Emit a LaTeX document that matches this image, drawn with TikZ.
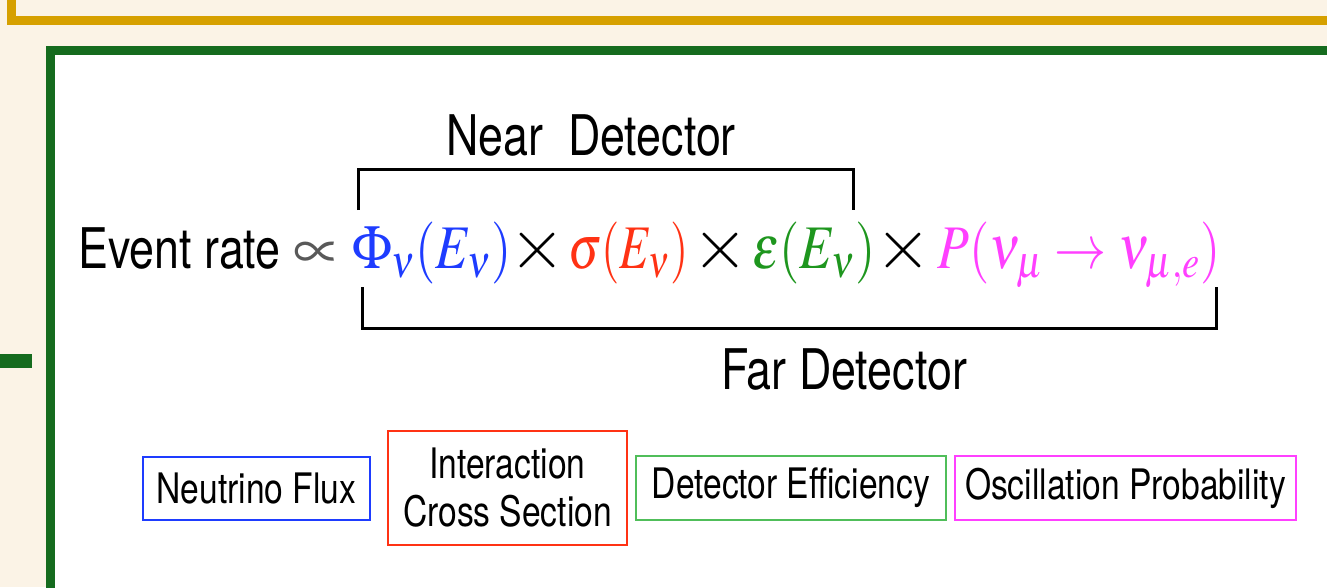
\documentclass[tikz,border=0pt]{standalone}
\usepackage[no-math]{fontspec}
\usepackage{mathptmx}
\usepackage{graphicx}
\setmainfont{TeX Gyre Heros}[FakeStretch=0.8]
\usepackage{tikz}

\definecolor{cream}{RGB}{251,243,230}
\definecolor{gold}{RGB}{214,160,0}
\definecolor{frame}{RGB}{21,107,30}
\definecolor{fluxc}{RGB}{30,60,255}
\definecolor{xsecc}{RGB}{255,50,20}
\definecolor{effc}{RGB}{30,150,30}
\definecolor{effbox}{RGB}{80,190,90}
\definecolor{oscc}{RGB}{255,64,255}

\newcommand{\bigsf}{\fontsize{56}{60}\selectfont}
\newcommand{\boxsf}{\fontsize{42}{48}\selectfont}
\newcommand{\eqsize}{\fontsize{62}{70}\selectfont}
\newcommand{\eqfit}[2][0.84]{\scalebox{#1}[1]{#2}}

\tikzset{
  tagbox/.style={draw, line width=2.7pt, inner sep=0pt, align=center, font=\boxsf},
  bracket/.style={line width=3pt},
  factor/.style={anchor=base west, inner sep=0pt, font=\eqsize},
  timessign/.style={inner sep=0pt, font=\fontsize{72}{72}\selectfont}
}

\begin{document}
\begin{tikzpicture}[x=1pt,y=-1pt]
    \useasboundingbox (0,0) rectangle (1327,587);
    \fill[cream] (0,0) rectangle (1327,587);
    \begin{scope}
    \clip (0,0) rectangle (1327,587);
    \draw[gold, line width=9pt] (11.5,-30) rectangle (1360,20.5);
    \draw[frame, line width=9pt, fill=white] (50.2,50) rectangle (1360,620);
    \fill[frame] (0,354) rectangle (32,368);
    \end{scope}

    \node[anchor=base west, inner sep=0pt, font=\bigsf] (rate) at (78,268) {Event rate \textcolor{black!65}{\fontsize{64}{64}\selectfont$\propto$}};
    \node[factor, text=fluxc] (flux) at (352,268) {\eqfit{$\Phi_\nu(E_\nu)$}};
    \node[timessign] (t1) at (537,250) {$\times$};
    \node[factor, text=xsecc] (xsec) at (568,268) {\eqfit[0.76]{$\sigma(E_\nu)$}};
    \node[timessign] (t2) at (720,250) {$\times$};
    \node[factor, text=effc] (eff) at (752,268) {\eqfit{$\epsilon(E_\nu)$}};
    \node[timessign] (t3) at (903,250) {$\times$};
    \node[factor, text=oscc] (osc) at (937,268) {\eqfit{$P(\nu_\mu\to\nu_{\mu,e})$}};

    \node[anchor=base, inner sep=0pt, font=\bigsf] (near) at (591,155) {Near\ \ Detector};
    \draw[bracket] (358,210)--(358,169.5)--(853,169.5)--(853,210);
    \draw[bracket] (362,287)--(362,328)--(1216,328)--(1216,287);
    \node[anchor=base, inner sep=0pt, font=\bigsf] (far) at (844,389) {Far Detector};

    \node[tagbox, draw=fluxc, minimum width=227pt, minimum height=63pt] (fluxbox) at (256.5,488.5) {Neutrino Flux};
    \node[tagbox, draw=xsecc, minimum width=239pt, minimum height=114pt] (xsecbox) at (507.5,488) {Interaction\\Cross Section};
    \node[tagbox, draw=effbox, minimum width=310pt, minimum height=64pt] (effbox) at (791,488) {Detector Efficiency};
    \node[tagbox, draw=oscc, minimum width=341pt, minimum height=64pt] (oscbox) at (1125.5,488) {Oscillation Probability};
\end{tikzpicture}
\end{document}
